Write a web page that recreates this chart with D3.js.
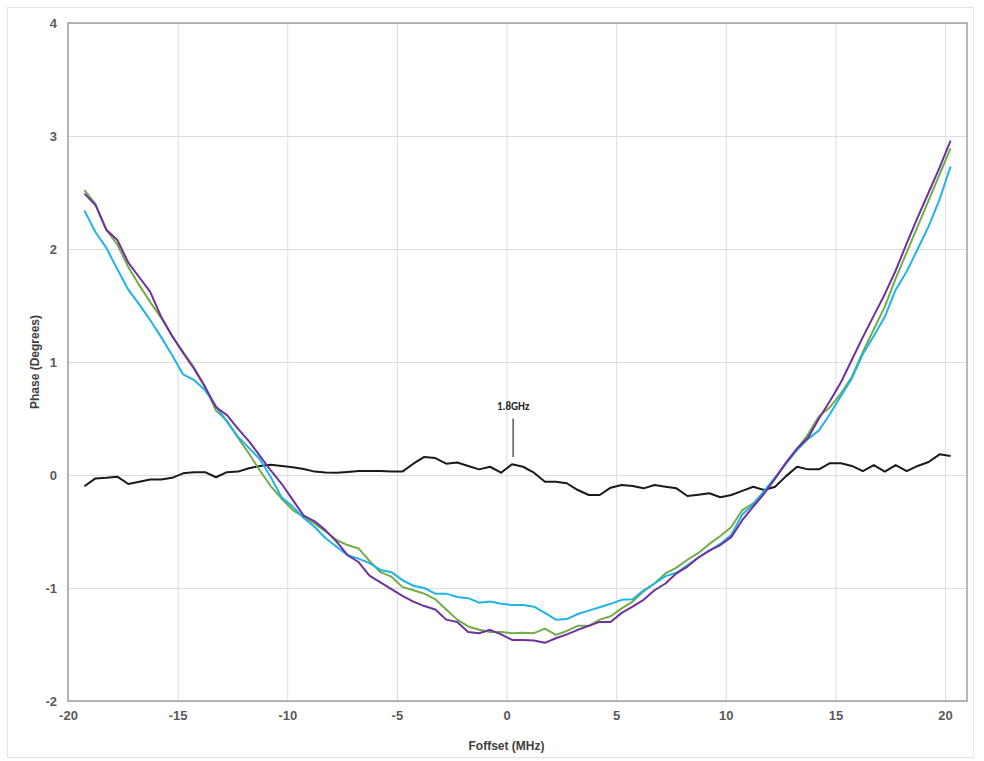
<!DOCTYPE html>
<html>
<head>
<meta charset="utf-8">
<script src="https://cdn.jsdelivr.net/npm/d3@7"></script>
<style>
  body { margin: 0; background: #fff; }
  .tick text { font-family: "Liberation Sans", Arial, sans-serif; font-weight: bold; font-size: 13px; fill: #595959; }
  .axis-title { font-family: "Liberation Sans", Arial, sans-serif; font-weight: bold; font-size: 12px; fill: #404040; }
</style>
</head>
<body>
<div id="chart"></div>
<script>
// offset frequency, MHz
var freq = [-19.25, -18.75, -18.25, -17.75, -17.25, -16.75, -16.25, -15.75, -15.25, -14.75,
  -14.25, -13.75, -13.25, -12.75, -12.25, -11.75, -11.25, -10.75, -10.25, -9.75,
  -9.25, -8.75, -8.25, -7.75, -7.25, -6.75, -6.25, -5.75, -5.25, -4.75,
  -4.25, -3.75, -3.25, -2.75, -2.25, -1.75, -1.25, -0.75, -0.25, 0.25,
  0.75, 1.25, 1.75, 2.25, 2.75, 3.25, 3.75, 4.25, 4.75, 5.25,
  5.75, 6.25, 6.75, 7.25, 7.75, 8.25, 8.75, 9.25, 9.75, 10.25,
  10.75, 11.25, 11.75, 12.25, 12.75, 13.25, 13.75, 14.25, 14.75, 15.25,
  15.75, 16.25, 16.75, 17.25, 17.75, 18.25, 18.75, 19.25, 19.75, 20.25];

// phase, degrees
var phase18 = [-0.10, -0.03, -0.025, -0.015, -0.08, -0.06, -0.04, -0.04, -0.025, 0.015,
  0.025, 0.025, -0.02, 0.025, 0.03, 0.06, 0.08, 0.09, 0.08, 0.068,
  0.053, 0.03, 0.022, 0.02, 0.027, 0.035, 0.035, 0.035, 0.03, 0.03,
  0.10, 0.16, 0.15, 0.10, 0.11, 0.08, 0.05, 0.073, 0.02, 0.095,
  0.073, 0.02, -0.06, -0.06, -0.073, -0.133, -0.177, -0.177, -0.112, -0.088,
  -0.097, -0.118, -0.088, -0.104, -0.118, -0.186, -0.174, -0.162, -0.197, -0.177,
  -0.14, -0.104, -0.133, -0.104, -0.01, 0.073, 0.05, 0.05, 0.104, 0.104,
  0.08, 0.035, 0.088, 0.03, 0.088, 0.035, 0.08, 0.115, 0.183, 0.168];

var phasePurple = [2.49, 2.39, 2.17, 2.08, 1.88, 1.75, 1.62, 1.40, 1.23, 1.08,
  0.94, 0.78, 0.60, 0.53, 0.41, 0.30, 0.17, 0.04, -0.08, -0.22,
  -0.36, -0.41, -0.49, -0.59, -0.71, -0.77, -0.89, -0.95, -1.01, -1.07,
  -1.12, -1.16, -1.19, -1.28, -1.30, -1.39, -1.40, -1.37, -1.41, -1.46,
  -1.46, -1.465, -1.485, -1.445, -1.41, -1.37, -1.335, -1.30, -1.30, -1.22,
  -1.165, -1.105, -1.02, -0.96, -0.87, -0.81, -0.73, -0.67, -0.62, -0.55,
  -0.40, -0.28, -0.165, -0.03, 0.11, 0.235, 0.33, 0.50, 0.655, 0.82,
  1.02, 1.22, 1.41, 1.60, 1.81, 2.05, 2.28, 2.50, 2.72, 2.96];

var phaseGreen = [2.52, 2.40, 2.17, 2.04, 1.84, 1.68, 1.53, 1.39, 1.23, 1.09,
  0.95, 0.78, 0.57, 0.48, 0.33, 0.19, 0.04, -0.10, -0.21, -0.31,
  -0.37, -0.43, -0.50, -0.575, -0.62, -0.65, -0.76, -0.86, -0.90, -0.99,
  -1.02, -1.05, -1.10, -1.19, -1.28, -1.34, -1.37, -1.39, -1.39, -1.40,
  -1.395, -1.40, -1.36, -1.415, -1.38, -1.335, -1.335, -1.28, -1.25, -1.18,
  -1.12, -1.03, -0.96, -0.87, -0.82, -0.75, -0.69, -0.61, -0.54, -0.46,
  -0.31, -0.25, -0.15, -0.03, 0.11, 0.23, 0.36, 0.52, 0.60, 0.72,
  0.87, 1.09, 1.29, 1.49, 1.74, 1.97, 2.20, 2.43, 2.66, 2.89];

var phaseCyan = [2.34, 2.15, 2.01, 1.82, 1.64, 1.51, 1.37, 1.22, 1.06, 0.89,
  0.84, 0.75, 0.61, 0.47, 0.34, 0.24, 0.14, -0.02, -0.20, -0.28,
  -0.38, -0.46, -0.56, -0.635, -0.71, -0.74, -0.78, -0.84, -0.86, -0.93,
  -0.98, -1.00, -1.05, -1.05, -1.08, -1.09, -1.13, -1.12, -1.14, -1.15,
  -1.15, -1.165, -1.22, -1.28, -1.275, -1.23, -1.20, -1.17, -1.14, -1.105,
  -1.10, -1.02, -0.96, -0.895, -0.865, -0.80, -0.73, -0.67, -0.61, -0.53,
  -0.35, -0.26, -0.14, -0.02, 0.10, 0.22, 0.32, 0.395, 0.54, 0.70,
  0.855, 1.07, 1.23, 1.40, 1.64, 1.80, 2.00, 2.20, 2.44, 2.73];

var xTicks = [-20, -15, -10, -5, 0, 5, 10, 15, 20];
var yTicks = [-2, -1, 0, 1, 2, 3, 4];

// annotation for the flat trace
var annoLabel = '1.8GHz';
var annoFreq = 0.3;
var annoTop = 0.5;
var annoBottom = 0.16;

var width = 984;
var height = 761;
var margin = { top: 23, right: 17, bottom: 60, left: 68 };
var graphWidth = width - margin.left - margin.right;
var graphHeight = height - margin.top - margin.bottom;

var svg = d3.select('#chart')
  .append('svg')
  .attr('width', width)
  .attr('height', height);

// outer frame
svg.append('rect')
  .attr('x', 7.5).attr('y', 7.5)
  .attr('width', 966).attr('height', 750)
  .attr('fill', '#fff')
  .attr('stroke', '#e3e3e3');

var graph = svg.append('g')
  .attr('transform', 'translate(' + margin.left + ',' + margin.top + ')');

var x = d3.scaleLinear().domain([-20, 21]).range([0, graphWidth]);
var y = d3.scaleLinear().domain([-2, 4]).range([graphHeight, 0]);

// plain hyphen labels like the original
var plain = d => String(d);

// grid
graph.append('g')
  .attr('class', 'x-grid')
  .attr('transform', 'translate(0,' + graphHeight + ')')
  .call(d3.axisBottom(x).tickValues(xTicks).tickSize(-graphHeight).tickFormat(''))
  .call(g => g.select('.domain').remove())
  .selectAll('line').attr('stroke', '#dcdcdc');

graph.append('g')
  .attr('class', 'y-grid')
  .call(d3.axisLeft(y).tickValues(yTicks).tickSize(-graphWidth).tickFormat(''))
  .call(g => g.select('.domain').remove())
  .selectAll('line').attr('stroke', '#dcdcdc');

// plot border
graph.append('rect')
  .attr('width', graphWidth)
  .attr('height', graphHeight)
  .attr('fill', 'none')
  .attr('stroke', '#a0a0a0')
  .attr('stroke-width', 1.5);

// tick labels
graph.append('g')
  .attr('class', 'x-axis')
  .attr('transform', 'translate(0,' + graphHeight + ')')
  .call(d3.axisBottom(x).tickValues(xTicks).tickFormat(plain).tickSize(0).tickPadding(10))
  .call(g => g.select('.domain').remove());

graph.append('g')
  .attr('class', 'y-axis')
  .call(d3.axisLeft(y).tickValues(yTicks).tickFormat(plain).tickSize(0).tickPadding(11))
  .call(g => g.select('.domain').remove());

// series
var series = [
  { values: phase18, color: '#1a1a1a' },
  { values: phaseGreen, color: '#70ad47' },
  { values: phaseCyan, color: '#1fb4e8' },
  { values: phasePurple, color: '#7030a0' }
];

var line = d3.line()
  .x((d, i) => x(freq[i]))
  .y(d => y(d));

graph.selectAll('path.series')
  .data(series)
  .enter()
  .append('path')
  .attr('class', 'series')
  .attr('d', d => line(d.values))
  .attr('fill', 'none')
  .attr('stroke', d => d.color)
  .attr('stroke-width', 2)
  .attr('stroke-linejoin', 'round');

// annotation
graph.append('line')
  .attr('x1', x(annoFreq)).attr('x2', x(annoFreq))
  .attr('y1', y(annoTop)).attr('y2', y(annoBottom))
  .attr('stroke', '#333')
  .attr('stroke-width', 1.2);

graph.append('text')
  .attr('x', x(annoFreq))
  .attr('y', y(annoTop) - 9)
  .attr('text-anchor', 'middle')
  .style('font-family', 'Carlito, "Liberation Sans", Arial, sans-serif')
  .style('font-weight', 'bold')
  .style('font-size', '11px')
  .style('fill', '#262626')
  .text(annoLabel);

// axis titles
svg.append('text')
  .attr('class', 'axis-title')
  .attr('x', margin.left + x(0))
  .attr('y', 750)
  .attr('text-anchor', 'middle')
  .text('Foffset (MHz)');

svg.append('text')
  .attr('class', 'axis-title')
  .attr('transform', 'translate(39,' + (margin.top + y(1)) + ') rotate(-90)')
  .attr('text-anchor', 'middle')
  .text('Phase (Degrees)');
</script>
</body>
</html>
